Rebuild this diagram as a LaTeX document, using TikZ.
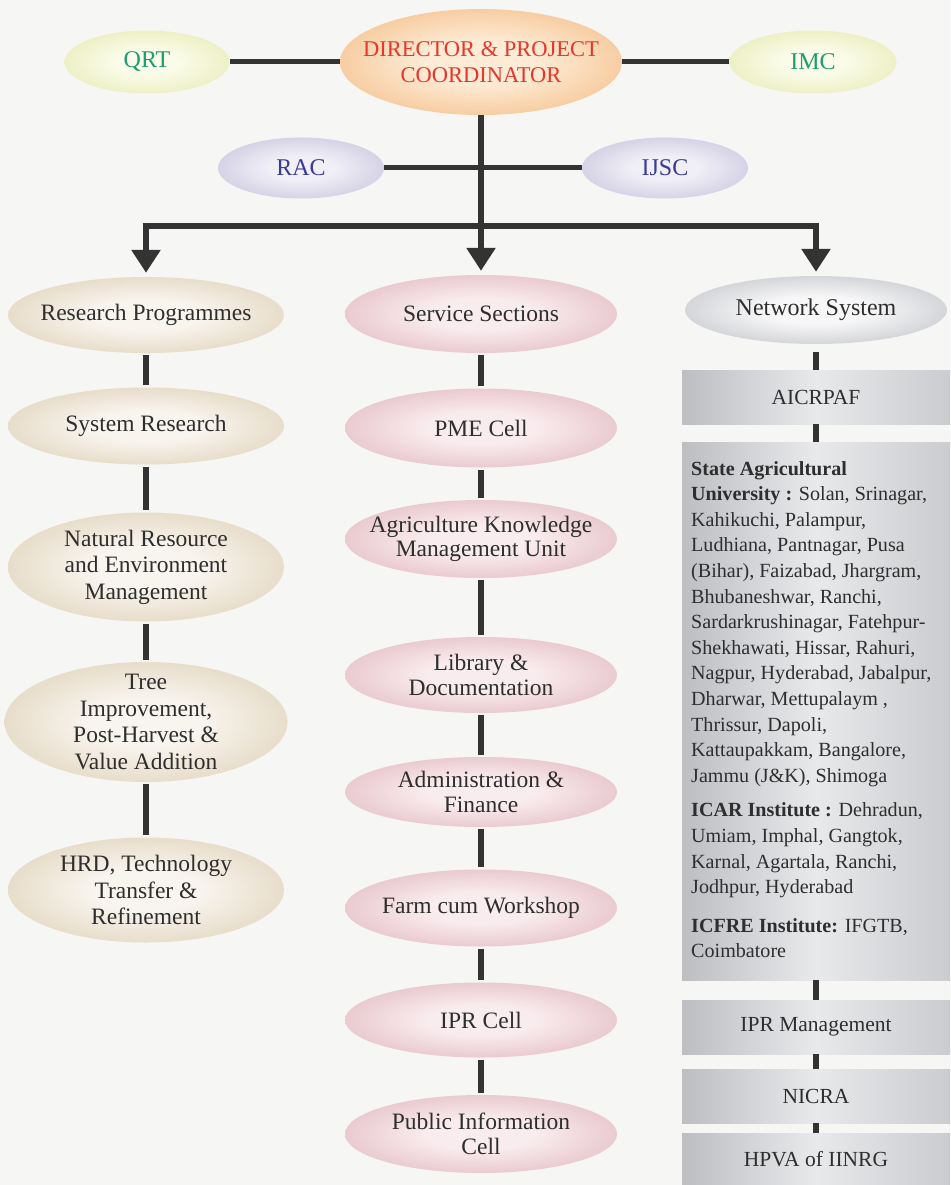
\documentclass[tikz,border=0pt]{standalone}
\usepackage{fontspec}
\setmainfont{Liberation Serif}
\usetikzlibrary{shapes.geometric}
\usetikzlibrary{arrows.meta}

\definecolor{paper}{HTML}{F6F6F4}
\definecolor{ink}{HTML}{2E2E2E}
\definecolor{wire}{HTML}{333333}
\definecolor{dirred}{HTML}{E5372C}
\definecolor{sidegreen}{HTML}{1E9C72}
\definecolor{racblue}{HTML}{3B3A96}
\definecolor{dirin}{HTML}{FDEBD5}
\definecolor{dirout}{HTML}{F0A862}
\definecolor{sidein}{HTML}{FAFBE8}
\definecolor{sideout}{HTML}{DDE39A}
\definecolor{racin}{HTML}{F0EFF6}
\definecolor{racout}{HTML}{B3AFD1}
\definecolor{resin}{HTML}{F8F4EE}
\definecolor{resout}{HTML}{D2C09C}
\definecolor{serin}{HTML}{F9ECEE}
\definecolor{serout}{HTML}{D6A0AA}
\definecolor{netin}{HTML}{F7F7F8}
\definecolor{netout}{HTML}{A8ABB1}
\definecolor{boxl}{HTML}{BCBEC2}
\definecolor{boxm}{HTML}{E8E9EB}
\definecolor{boxr}{HTML}{CACCCF}
\colorlet{ovin}{white}
\colorlet{ovout}{gray}
\pgfdeclareradialshading[ovin,ovout]{ovglow}{\pgfpointorigin}{color(0bp)=(ovin); color(10bp)=(ovin); color(44bp)=(ovout); color(50bp)=(ovout)}

\begin{document}
\begin{tikzpicture}[x=1pt, y=-1pt,
  ovpal/.code 2 args={\colorlet{ovin}{#1}\colorlet{ovout}{#2}},
  oval/.style={ellipse, shade, shading=ovglow, inner xsep=-70pt, inner ysep=-45pt, align=center, text=ink, font=\fontsize{23.5}{26.5}\selectfont, minimum width=276pt, minimum height=76pt},
  topoval/.style={oval, ovpal={dirin}{dirout}, text=dirred, minimum width=282pt, minimum height=106pt, font=\fontsize{22.5}{26}\selectfont},
  sideoval/.style={oval, ovpal={sidein}{sideout}, text=sidegreen, minimum width=165pt, minimum height=63pt, font=\fontsize{24}{26}\selectfont},
  advoval/.style={oval, ovpal={racin}{racout}, text=racblue, minimum width=166pt, minimum height=61pt, font=\fontsize{24}{26}\selectfont},
  resoval/.style={oval, ovpal={resin}{resout}},
  seroval/.style={oval, ovpal={serin}{serout}, minimum width=272pt, font=\fontsize{23.5}{25}\selectfont},
  netoval/.style={oval, ovpal={netin}{netout}, minimum width=262pt, minimum height=68pt, font=\fontsize{24}{26}\selectfont},
  netbox/.style={rectangle, inner sep=0pt, minimum width=268pt, minimum height=54pt, left color=boxl, right color=boxr, middle color=boxm, text=ink, font=\fontsize{21.5}{24}\selectfont},
  listtext/.style={anchor=north west, inner sep=0pt, align=left, text=ink, font=\fontsize{20.1}{25.6}\selectfont},
  wire/.style={draw=wire, line width=6pt},
  hwire/.style={draw=wire, line width=5pt},
  arrowline/.style={wire, -{Triangle[width=28pt,length=23pt]}, shorten >=4pt}]

  \useasboundingbox (0,0) rectangle (950,1185);
  \fill[paper] (0,0) rectangle (950,1185);

  % top of the chart
  \node[topoval] (dir) at (481,62) {DIRECTOR \& PROJECT\\COORDINATOR};
  \node[sideoval] (qrt) at (147,62) {QRT};
  \node[sideoval, minimum width=167pt] (imc) at (813,62) {IMC};
  \node[advoval] (rac) at (301,168) {RAC};
  \node[advoval] (ijsc) at (665,168) {IJSC};
  \coordinate (bar) at (481,226);

  % research programmes
  \node[resoval] (rp) at (146,315) {Research Programmes};
  \node[resoval, minimum height=77pt] (sr) at (146,426) {System Research};
  \node[resoval, minimum height=109pt] (nre) at (146,567) {Natural Resource\\and Environment\\Management};
  \node[resoval, minimum width=283pt, minimum height=120pt] (tip) at (146,722) {Tree\\Improvement,\\Post-Harvest \&\\Value Addition};
  \node[resoval, minimum height=105pt] (hrd) at (146,890) {HRD, Technology\\Transfer \&\\Refinement};

  % service sections
  \node[seroval, minimum height=78pt] (ss) at (481,314) {Service Sections};
  \node[seroval, minimum height=79pt] (pme) at (481,428) {PME Cell};
  \node[seroval, minimum height=78pt, font=\fontsize{23.5}{24}\selectfont] (akmu) at (481,539) {Agriculture Knowledge\\Management Unit};
  \node[seroval] (lib) at (481,675) {Library \&\\Documentation};
  \node[seroval, minimum height=70pt] (adm) at (481,792) {Administration \&\\Finance};
  \node[seroval, minimum height=77pt] (farm) at (481,908) {Farm cum Workshop};
  \node[seroval, minimum height=75pt] (iprc) at (481,1020) {IPR Cell};
  \node[seroval, minimum height=78pt] (pic) at (481,1134) {Public Information\\Cell};

  % network system
  \node[netoval] (ns) at (816,310) {Network System};
  \node[netbox] (aic) at (816,397) {AICRPAF};
  \node[netbox, minimum height=538pt] (sau) at (816,711) {};
  \node[listtext] (saulist) at (691,461) {\textbf{State Agricultural}\\
    \textbf{University :} Solan, Srinagar,\\
    Kahikuchi, Palampur,\\
    Ludhiana, Pantnagar, Pusa\\
    (Bihar), Faizabad, Jhargram,\\
    Bhubaneshwar, Ranchi,\\
    Sardarkrushinagar, Fatehpur-\\
    Shekhawati, Hissar, Rahuri,\\
    Nagpur, Hyderabad, Jabalpur,\\
    Dharwar, Mettupalaym ,\\
    Thrissur, Dapoli,\\
    Kattaupakkam, Bangalore,\\
    Jammu (J\&K), Shimoga\\[9pt]
    \textbf{ICAR Institute :} Dehradun,\\
    Umiam, Imphal, Gangtok,\\
    Karnal, Agartala, Ranchi,\\
    Jodhpur, Hyderabad\\[13pt]
    \textbf{ICFRE Institute:} IFGTB,\\
    Coimbatore};
  \node[netbox] (iprm) at (816,1027) {IPR Management};
  \node[netbox] (nicra) at (816,1096) {NICRA};
  \node[netbox, minimum height=52pt] (hpva) at (816,1159) {HPVA of IINRG};

  % connectors
  \draw[hwire] (qrt) -- (dir);
  \draw[hwire] (dir) -- (imc);
  \draw[hwire] (rac) -- (ijsc);
  \draw[wire] (dir) -- (bar);
  \draw[arrowline] (bar) -| (rp.north);
  \draw[arrowline] (bar) -- (ss.north);
  \draw[arrowline] (bar) -| (ns.north);
  \foreach \from/\to in {rp/sr, sr/nre, nre/tip, tip/hrd, ss/pme, pme/akmu, akmu/lib, lib/adm, adm/farm, farm/iprc, iprc/pic}
    \draw[wire, shorten <=2pt, shorten >=2pt] (\from) -- (\to);
  \draw[wire, shorten <=8pt] (ns) -- (aic);
  \foreach \from/\to in {aic/sau, sau/iprm, iprm/nicra, nicra/hpva}
    \draw[wire] (\from) -- (\to);
\end{tikzpicture}
\end{document}
